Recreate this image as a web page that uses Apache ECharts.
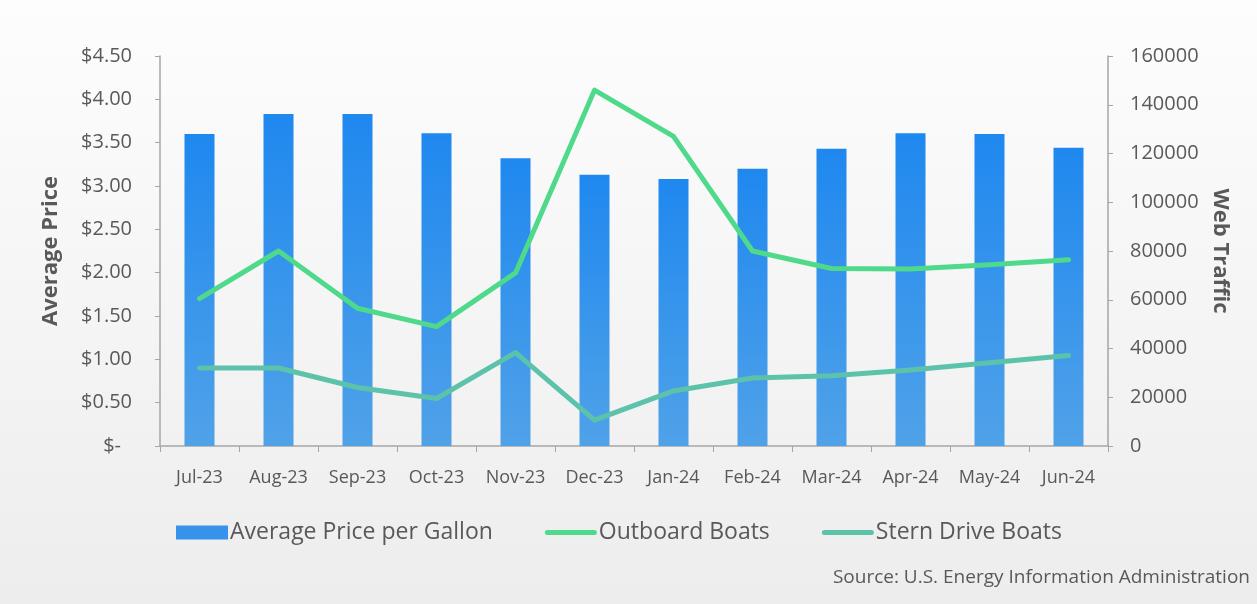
<!DOCTYPE html>
<html>
<head>
<meta charset="utf-8">
<script src="https://cdn.jsdelivr.net/npm/echarts@6/dist/echarts.min.js"></script>
<style>
html,body{margin:0;padding:0;}
#chart{width:1257px;height:604px;}
</style>
</head>
<body>
<div id="chart"></div>
<script>
const months = ['Jul-23','Aug-23','Sep-23','Oct-23','Nov-23','Dec-23','Jan-24','Feb-24','Mar-24','Apr-24','May-24','Jun-24'];
const avgPrice = [3.60, 3.83, 3.83, 3.61, 3.32, 3.13, 3.08, 3.20, 3.43, 3.61, 3.60, 3.44];
const outboardBoats = [60500, 80000, 56500, 49000, 71000, 146000, 127000, 80000, 72800, 72600, 74400, 76400];
const sternDriveBoats = [32000, 32000, 24000, 19500, 38300, 10600, 22600, 27900, 28800, 31200, 34200, 37100];
const seriesNames = ['Average Price per Gallon', 'Outboard Boats', 'Stern Drive Boats'];
const sourceText = 'Source: U.S. Energy Information Administration';

const chart = echarts.init(document.getElementById('chart'));
const txt = '#595959';
const font = 'Open Sans';
const axisCol = '#a6a6a6';
const lineIcon = 'path://M2.5,0 L49.5,0 A2.5,2.5 0 0 1 49.5,5 L2.5,5 A2.5,2.5 0 0 1 2.5,0 Z';

chart.setOption({
  backgroundColor: new echarts.graphic.LinearGradient(0,0,0,1,[
    {offset:0,color:'#fdfdfd'},{offset:1,color:'#ededed'}
  ]),
  animation:false,
  textStyle:{fontFamily:font},
  grid:{left:160,right:149,top:56,bottom:158},
  legend:{
    left:171, top:516,
    itemWidth:52, itemHeight:14, itemGap:52,
    textStyle:{fontSize:23,color:txt,fontFamily:font,padding:[0,0,0,-3]},
    data:[
      {name:seriesNames[0], icon:'rect', itemStyle:{color:'#3792ec'}},
      {name:seriesNames[1], icon:lineIcon},
      {name:seriesNames[2], icon:lineIcon}
    ]
  },
  graphic:[{
    type:'text', right:7, top:568,
    style:{text:sourceText, fontSize:19, fill:txt, fontFamily:font}
  }],
  xAxis:{
    type:'category', data:months,
    axisLine:{lineStyle:{color:axisCol,width:1.5}},
    axisTick:{show:true,length:6,lineStyle:{color:axisCol}},
    axisLabel:{color:txt,fontSize:18,margin:23,interval:0,fontFamily:font}
  },
  yAxis:[{
    type:'value', min:0, max:4.5, interval:0.5,
    name:'Average Price', nameLocation:'middle', nameGap:98, nameRotate:90,
    nameTextStyle:{fontSize:22,fontWeight:'bold',color:txt,fontFamily:font},
    axisLine:{show:true,lineStyle:{color:axisCol,width:1.5}},
    axisTick:{show:true,length:5,lineStyle:{color:axisCol}},
    splitLine:{show:false},
    axisLabel:{color:txt,fontSize:20,margin:28,fontFamily:font,
      formatter:function(v){ return v===0 ? '{z|$-}' : '$'+v.toFixed(2); },
      rich:{z:{fontSize:20,color:txt,fontFamily:font,padding:[0,11,0,0]}}
    }
  },{
    type:'value', min:0, max:160000, interval:20000, position:'right',
    name:'Web Traffic', nameLocation:'middle', nameGap:101, nameRotate:-90,
    nameTextStyle:{fontSize:22,fontWeight:'bold',color:txt,fontFamily:font},
    axisLine:{show:true,lineStyle:{color:axisCol,width:1.5}},
    axisTick:{show:true,length:5,lineStyle:{color:axisCol}},
    splitLine:{show:false},
    axisLabel:{color:txt,fontSize:20,margin:22,fontFamily:font,
      formatter:function(v){ return String(v); }}
  }],
  series:[{
    name:seriesNames[0], type:'bar', data:avgPrice, barWidth:30, yAxisIndex:0,
    itemStyle:{color:new echarts.graphic.LinearGradient(0,0,0,1,[
      {offset:0,color:'#1f88ef'},{offset:1,color:'#50a2e8'}
    ])}
  },{
    name:seriesNames[1], type:'line', data:outboardBoats, yAxisIndex:1,
    symbol:'none', lineStyle:{width:5,color:'#4fd98a',cap:'round',join:'round'},
    itemStyle:{color:'#4fd98a'}
  },{
    name:seriesNames[2], type:'line', data:sternDriveBoats, yAxisIndex:1,
    symbol:'none', lineStyle:{width:5,color:'#5cc3aa',cap:'round',join:'round'},
    itemStyle:{color:'#5cc3aa'}
  }]
});
</script>
</body>
</html>
